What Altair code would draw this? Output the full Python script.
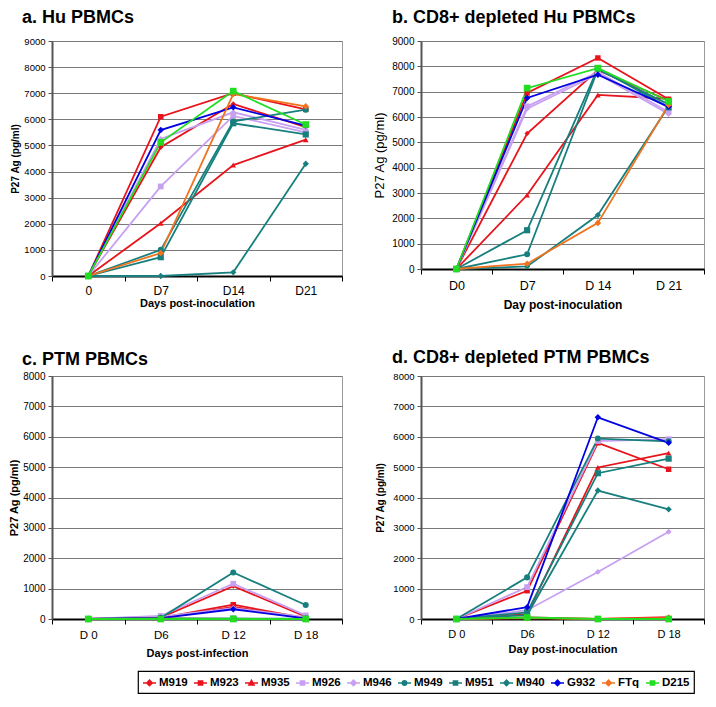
import altair as alt
import pandas as pd

series = ["M919", "M923", "M935", "M926", "M946", "M949", "M951", "M940", "G932", "FTq", "D215"]
colors = ["#E8131B", "#E8131B", "#E8131B", "#C8A0F2", "#C8A0F2", "#17807E", "#17807E", "#17807E",
          "#0000E0", "#F2731F", "#22DD22"]
point_shapes = ["diamond", "square", "triangle-up", "square", "diamond", "circle", "square",
                "diamond", "diamond", "diamond", "square"]
point_sizes = [28, 45, 32, 70, 20, 42, 70, 20, 45, 35, 60]

# legend symbols: a short line with a marker drawn as nested outlines (looks filled)
DIA = "M-1,0H1M0,-0.42L0.42,0L0,0.42L-0.42,0ZM0,-0.22L0.22,0L0,0.22L-0.22,0Z"
SQ = "M-1,0H1M-0.32,-0.32H0.32V0.32H-0.32ZM-0.16,-0.16H0.16V0.16H-0.16Z"
TRI = "M-1,0H1M0,-0.42L0.4,0.3L-0.4,0.3ZM0,-0.16L0.16,0.16L-0.16,0.16Z"
CIR = ("M-1,0H1M0.34,0A0.34,0.34,0,1,1,-0.34,0A0.34,0.34,0,1,1,0.34,0Z"
       "M0.17,0A0.17,0.17,0,1,1,-0.17,0A0.17,0.17,0,1,1,0.17,0Z")
legend_paths = [DIA, SQ, TRI, SQ, DIA, CIR, SQ, DIA, DIA, DIA, SQ]

# Panel a: Hu PBMCs
a_days = ["0", "D7", "D14", "D21"]
a_vals = {
    "M919": [0, 4930, 6590, 5700],
    "M923": [0, 6100, 7000, 6380],
    "M935": [0, 2020, 4250, 5220],
    "M926": [0, 3430, 6130, 5500],
    "M946": [0, 5250, 6270, 5600],
    "M949": [0, 1000, 5920, 6370],
    "M951": [0, 720, 5850, 5420],
    "M940": [0, 0, 140, 4300],
    "G932": [0, 5590, 6460, 5760],
    "FTq": [0, 880, 6970, 6500],
    "D215": [0, 5120, 7080, 5800],
}

# Panel b: CD8+ depleted Hu PBMCs
b_days = ["D0", "D7", "D 14", "D 21"]
b_vals = {
    "M919": [0, 5350, 7850, 6650],
    "M923": [0, 6950, 8330, 6700],
    "M935": [0, 2920, 6870, 6720],
    "M926": [0, 6420, 7780, 6200],
    "M946": [0, 6330, 7700, 6120],
    "M949": [0, 580, 7880, 6500],
    "M951": [0, 1530, 7930, 6380],
    "M940": [0, 100, 2130, 6420],
    "G932": [0, 6750, 7670, 6400],
    "FTq": [0, 210, 1820, 6480],
    "D215": [0, 7140, 7930, 6620],
}

# Panel c: PTM PBMCs
c_days = ["D 0", "D6", "D 12", "D 18"]
c_vals = {
    "M919": [0, 50, 1080, 80],
    "M923": [0, 40, 470, 30],
    "M935": [0, 30, 400, 20],
    "M926": [0, 100, 1160, 120],
    "M946": [0, 80, 360, 60],
    "M949": [0, 40, 1530, 460],
    "M951": [0, 20, 10, 10],
    "M940": [0, 10, 10, 0],
    "G932": [0, 30, 320, 20],
    "FTq": [0, 10, 0, 0],
    "D215": [0, 0, 0, 0],
}

# Panel d: CD8+ depleted PTM PBMCs
d_days = ["D 0", "D6", "D 12", "D 18"]
d_vals = {
    "M919": [0, 50, 0, 60],
    "M923": [0, 930, 5800, 4930],
    "M935": [0, 160, 4990, 5460],
    "M926": [0, 1050, 5860, 5920],
    "M946": [0, 290, 1550, 2870],
    "M949": [0, 1370, 5940, 5850],
    "M951": [0, 220, 4800, 5280],
    "M940": [0, 130, 4230, 3610],
    "G932": [0, 390, 6640, 5800],
    "FTq": [0, 30, 0, 30],
    "D215": [0, 50, 0, 0],
}

FONT = "Liberation Sans"


def frame(days, vals):
    rows = []
    for s in series:
        for i, d in enumerate(days):
            rows.append({"series": s, "day": d, "idx": i, "value": vals[s][i]})
    return pd.DataFrame(rows)


def panel(days, vals, ymax, title, tdx, toff, w, h, xtitle, ytitle, yk, xk, with_legend=False):
    df = frame(days, vals)
    x = alt.X("day:N", sort=days,
              scale=alt.Scale(type="band", domain=days, paddingInner=0, paddingOuter=0),
              axis=alt.Axis(title=xtitle, labelAngle=0, tickBand="extent", grid=False,
                            domainColor="black", domainWidth=2, tickColor="black", tickSize=5,
                            tickWidth=1, labelFont=FONT, titleFont=FONT, labelColor="black",
                            titleColor="black", titleFontWeight="bold", **xk))
    y = alt.Y("value:Q", scale=alt.Scale(domain=[0, ymax], nice=False, zero=True),
              axis=alt.Axis(title=ytitle, values=list(range(0, ymax + 1, 1000)), grid=True,
                            gridColor="#7a7a7a", gridWidth=1, domainColor="#555555",
                            domainWidth=2, tickColor="#555555", tickSize=4, labelPadding=3,
                            labelFont=FONT, titleFont=FONT, labelColor="black",
                            titleColor="black", format="d", **yk))
    col = alt.Color("series:N", scale=alt.Scale(domain=series, range=colors), legend=None)
    lines = alt.Chart(df).mark_line(strokeWidth=1.8).encode(
        x=x, y=y, color=col, order=alt.Order("idx:Q"))
    pts = alt.Chart(df).mark_point(filled=True, opacity=1).encode(
        x=x, y=y, color=col,
        shape=alt.Shape("series:N", scale=alt.Scale(domain=series, range=point_shapes), legend=None),
        size=alt.Size("series:N", scale=alt.Scale(domain=series, range=point_sizes), legend=None))
    layers = [lines, pts]
    if with_legend:
        lg = alt.Legend(title=None, orient="none", legendX=86, legendY=295,
                        direction="horizontal", columns=11, strokeColor="black",
                        fillColor="white", padding=4, columnPadding=3,
                        labelFont=FONT, labelFontSize=11.5,
                        labelFontWeight="bold", labelColor="black", symbolSize=169,
                        symbolStrokeWidth=1.5, labelOffset=2, symbolOpacity=1)
        d0 = df[df["idx"] == 0]
        leg = alt.Chart(d0).mark_point(filled=False, opacity=0, strokeWidth=1.5).encode(
            x=x, y=y,
            color=alt.Color("series:N", scale=alt.Scale(domain=series, range=colors), legend=lg),
            shape=alt.Shape("series:N", scale=alt.Scale(domain=series, range=legend_paths), legend=lg))
        layers = [leg] + layers
    ch = alt.layer(*layers)
    if with_legend:
        ch = ch.resolve_scale(shape="independent", color="independent")
    return ch.properties(
        width=w, height=h,
        title=alt.TitleParams(text=title, anchor="start", frame="group", dx=tdx, offset=toff,
                              fontSize=18, fontWeight="bold", font=FONT, color="black",
                              baseline="alphabetic"))


pa = panel(a_days, a_vals, 9000, "a. Hu PBMCs", -30, -5, 290, 235,
           "Days post-inoculation", "P27 Ag (pg/ml)",
           dict(labelFontSize=9.5, titleFontSize=10, titleFontWeight="bold", titlePadding=3),
           dict(labelFontSize=12, labelPadding=4, titleFontSize=11, titlePadding=1))
pb = panel(b_days, b_vals, 9000, "b. CD8+ depleted Hu PBMCs", -29, -5, 283, 228,
           "Day post-inoculation", "P27 Ag (pg/ml)",
           dict(labelFontSize=10, titleFontSize=13, titleFontWeight="normal", titlePadding=5),
           dict(labelFontSize=12.5, labelPadding=5, titleFontSize=12, titlePadding=8))
pc = panel(c_days, c_vals, 8000, "c. PTM PBMCs", -30, -12, 290, 243,
           "Days post-infection", "P27 Ag (pg/ml)",
           dict(labelFontSize=10, titleFontSize=11, titleFontWeight="bold", titlePadding=3),
           dict(labelFontSize=11.5, labelPadding=5, titleFontSize=11, titlePadding=7),
           with_legend=True)
pd_ = panel(d_days, d_vals, 8000, "d. CD8+ depleted PTM PBMCs", -29, -10, 283, 243,
            "Day post-inoculation", "P27 Ag (pg/ml)",
            dict(labelFontSize=9.5, titleFontSize=10, titleFontWeight="bold", titlePadding=7),
            dict(labelFontSize=11, labelPadding=4, titleFontSize=11, titlePadding=4))

chart = alt.concat(pa, pb, pc, pd_, columns=2, spacing={"row": 92, "column": 79},
                   bounds="flush", align="all").resolve_scale(
    color="independent", shape="independent", size="independent"
).properties(padding=0, background="white").configure_view(
    stroke="#9a9a9a", strokeWidth=1
).configure_legend(strokeWidth=1.2)

chart.save("out.html", embed_options={"renderer": "svg", "actions": False})
